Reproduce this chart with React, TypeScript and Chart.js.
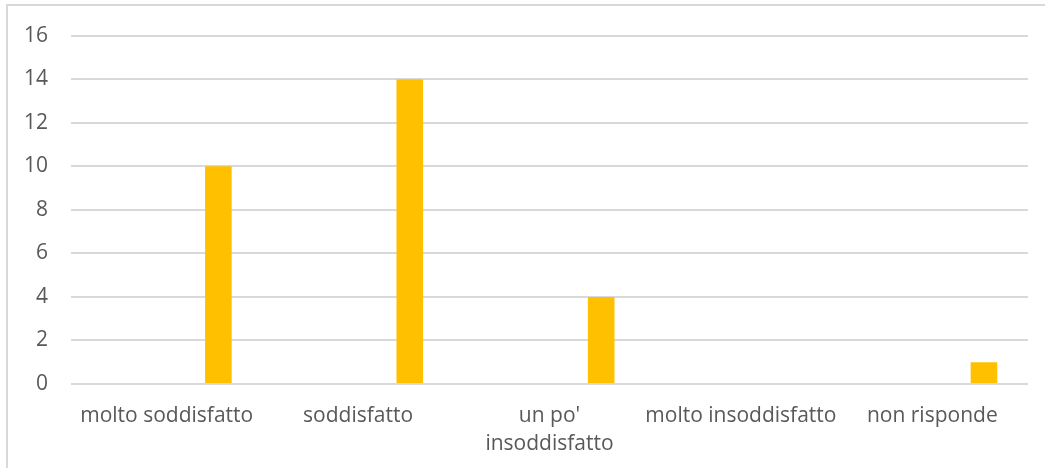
import React, { useEffect, useRef } from "react";
import { Chart, registerables } from "chart.js";

Chart.register(...registerables);

const categories: (string | string[])[] = [
  "molto soddisfatto",
  "soddisfatto",
  ["un po'", "insoddisfatto"],
  "molto insoddisfatto",
  "non risponde",
];

// Empty series slots (Excel-style grouped layout), then the visible series
const emptySeries: (number | null)[] = [null, null, null, null, null];
const responses: number[] = [10, 14, 4, 0, 1];

const yMin = 0;
const yMax = 16;
const yStep = 2;

const BAR_COLOR = "#FFC000";
const GRID_COLOR = "#D9D9D9";
const TEXT_COLOR = "#595959";
const FONT = "'Open Sans', 'Noto Sans', sans-serif";

export default function App() {
  const canvasRef = useRef<HTMLCanvasElement | null>(null);

  useEffect(() => {
    const canvas = canvasRef.current;
    if (!canvas) return;
    const datasets = [0, 1, 2, 3].map((i) => ({
      label: `vuota ${i + 1}`,
      data: emptySeries,
      backgroundColor: BAR_COLOR,
      categoryPercentage: 0.675,
      barPercentage: 1.03,
    }));
    datasets.push({
      label: "risposte",
      data: responses as any,
      backgroundColor: BAR_COLOR,
      categoryPercentage: 0.675,
      barPercentage: 1.03,
    });
    const chart = new Chart(canvas, {
      type: "bar",
      data: { labels: categories as any, datasets },
      options: {
        animation: false,
        responsive: false,
        maintainAspectRatio: false,
        layout: { padding: { top: 35, right: 17, left: 0, bottom: 0 } },
        plugins: {
          legend: { display: false },
          tooltip: { enabled: false },
        },
        scales: {
          x: {
            grid: { display: false, drawTicks: false },
            border: { display: false },
            ticks: {
              color: TEXT_COLOR,
              font: { family: FONT, size: 21, lineHeight: 1.333 },
              padding: 18,
              maxRotation: 0,
              autoSkip: false,
            },
            afterFit: (scale: any) => {
              scale.height = 84;
            },
          },
          y: {
            min: yMin,
            max: yMax,
            grid: { color: GRID_COLOR, lineWidth: 2, drawTicks: false },
            border: { display: false },
            ticks: {
              stepSize: yStep,
              color: TEXT_COLOR,
              font: { family: FONT, size: 21 },
              padding: 23,
            },
            afterFit: (scale: any) => {
              scale.width = 71;
            },
          },
        },
      },
    });
    return () => chart.destroy();
  }, []);

  return (
    <div style={{ position: "fixed", left: 0, top: 0, width: 1045, height: 468, background: "#fff", overflow: "hidden" }}>
      <div
        style={{
          position: "absolute",
          left: 6,
          top: 4,
          width: 1100,
          height: 520,
          border: `2px solid ${GRID_COLOR}`,
          boxSizing: "border-box",
        }}
      />
      <canvas ref={canvasRef} width={1045} height={468} style={{ position: "absolute", left: 0, top: 0 }} />
    </div>
  );
}
